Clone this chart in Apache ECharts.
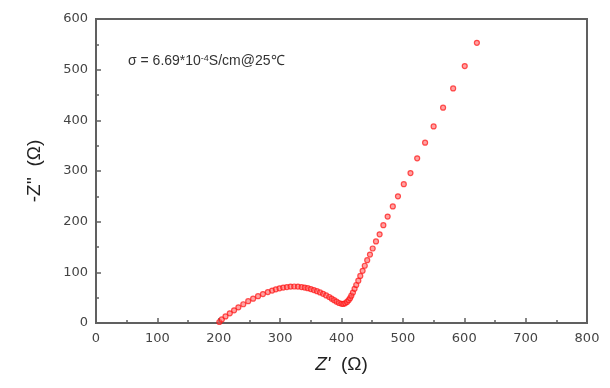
<!DOCTYPE html>
<html>
<head>
<meta charset="utf-8">
<script src="https://cdn.jsdelivr.net/npm/echarts@6/dist/echarts.min.js"></script>
<style>html,body{margin:0;padding:0;background:#fff}#c{width:610px;height:388px}</style>
</head>
<body>
<div id="c"></div>
<script>
const zReal = [201,205,211,218,225,232,240,248,256,264,272,280,287,293,299,305,311,317,323,329,335,340,345,350,355,360,365,370,375,380,384,388,392,396,400,403,406,409,411.6,414,416,418.6,421.3,424,427.4,430.6,434.4,437.9,441.9,446.4,450.8,456.2,462.1,468.2,475.2,483.6,492,501.5,512.4,523.3,536.2,550.1,565.5,581.9,600.8,620.6];
const zImag = [2,7,13,19,25,31,37,43,48,53,57,61,64,66.5,68.5,70,71,71.8,72,71.8,71,70,68.7,67,65,62.8,60.3,57.5,54.5,51.3,48,45,42,39.5,38,37.6,39,41.5,45,49,54,60,67.5,75,83.5,93,103,113,124,135,147,161,175,193,210,230,250,274,296,325,356,388,425,463,507,553];
const xTicks = [0,100,200,300,400,500,600,700,800];
const yTicks = [0,100,200,300,400,500,600];
const annotation = 'σ = 6.69*10';
const annotationSup = '-4';
const annotationTail = 'S/cm@25℃';

const chart = echarts.init(document.getElementById('c'), null, {renderer:'canvas'});
const axisColor = '#606060';
const labelColor = '#444';
const font = 'DejaVu Sans, sans-serif';
const font2 = 'Liberation Sans, Arial, sans-serif';
chart.setOption({
  animation:false,
  backgroundColor:'#fff',
  grid:{left:96,right:23,top:19,bottom:65,containLabel:false,show:true,borderColor:axisColor,borderWidth:2,backgroundColor:'transparent'},
  xAxis:{
    type:'value', min:xTicks[0], max:xTicks[xTicks.length-1], interval:100,
    name:"{i|Z'}  (Ω)", nameLocation:'middle', nameGap:32,
    nameTextStyle:{color:'#222',fontSize:19,fontFamily:font2,rich:{i:{fontStyle:'italic',fontSize:19,fontFamily:font2,color:'#222'}}},
    axisLine:{show:true,onZero:false,lineStyle:{color:axisColor,width:2}},
    axisTick:{show:true,inside:true,length:5,lineStyle:{color:axisColor,width:1.5}},
    minorTick:{show:true,splitNumber:2,length:3,lineStyle:{color:axisColor,width:1.5}},
    axisLabel:{color:labelColor,fontSize:13,fontFamily:font,margin:9},
    splitLine:{show:false}
  },
  yAxis:{
    type:'value', min:yTicks[0], max:yTicks[yTicks.length-1], interval:100,
    name:"-Z''  (Ω)", nameLocation:'middle', nameGap:52, nameRotate:90,
    nameTextStyle:{color:'#222',fontSize:19,fontFamily:font2},
    axisLine:{show:true,onZero:false,lineStyle:{color:axisColor,width:2}},
    axisTick:{show:true,inside:true,length:5,lineStyle:{color:axisColor,width:1.5}},
    minorTick:{show:true,splitNumber:2,length:3,lineStyle:{color:axisColor,width:1.5}},
    axisLabel:{color:labelColor,fontSize:13,fontFamily:font,margin:8},
    splitLine:{show:false}
  },
  series:[{
    type:'scatter',
    data: zReal.map((x,i)=>[x,zImag[i]]),
    symbol:'circle', symbolSize:5,
    itemStyle:{color:'rgba(255,90,90,0.7)',borderColor:'rgba(255,20,20,0.9)',borderWidth:1.2}
  }],
  graphic:[{
    type:'text', left:128, top:54,
    style:{
      text:'{a|'+annotation+'}{s|'+annotationSup+'}{a|'+annotationTail+'}',
      rich:{
        a:{fontSize:14,fontFamily:font2,fill:'#333'},
        s:{fontSize:9,fontFamily:font2,fill:'#333',verticalAlign:'top',padding:[0,0,6,0]}
      }
    }
  }]
});
</script>
</body>
</html>
